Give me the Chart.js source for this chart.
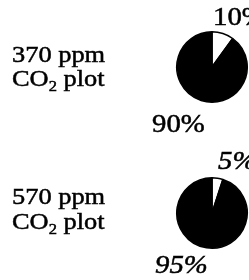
<!DOCTYPE html>
<html><head><meta charset="utf-8">
<script src="https://cdn.jsdelivr.net/npm/chart.js@4/dist/chart.umd.min.js"></script>
<style>
html,body{margin:0;padding:0;background:#fff;width:249px;height:280px;overflow:hidden}
.box{position:relative;width:249px;height:140px}
canvas{display:block}
</style></head>
<body>
<div class="box"><canvas id="c0" width="249" height="140"></canvas></div>
<div class="box"><canvas id="c1" width="249" height="140"></canvas></div>
<script>
// Data
const plotNames = ['370 ppm', '570 ppm'];
const gasName = ['CO', '2', ' plot'];
const sliceNames = ['other', 'main'];
const whiteValues = [10, 5];
const blackValues = [90, 95];

const layouts = [
  {pad:{left:176,right:1,top:31,bottom:37}, name:{x:12,y1:62,y2:86}, small:{dx:1,dy:-42,italic:false}, big:{dx:-60,dy:65,italic:false}},
  {pad:{left:176,right:1,top:37,bottom:31}, name:{x:12,y1:64,y2:89}, small:{dx:6,dy:-44,italic:true}, big:{dx:-57,dy:60,italic:true}}
];

function stretchText(ctx, text, x, y, font, sx) {
  ctx.save();
  ctx.font = font;
  ctx.scale(sx, 1);
  ctx.fillText(text, x / sx, y);
  ctx.lineWidth = 0.5;
  ctx.strokeText(text, x / sx, y);
  const w = ctx.measureText(text).width * sx;
  ctx.restore();
  return w;
}

const labelPlugin = {
  id: 'labels',
  afterDraw(chart) {
    const i = chart.options.plugins.labels.index;
    const L = layouts[i];
    const ctx = chart.ctx;
    ctx.save();
    ctx.fillStyle = '#000';
    ctx.strokeStyle = '#000';
    ctx.textBaseline = 'alphabetic';
    ctx.textAlign = 'left';
    const fam = '"Liberation Serif", "Times New Roman", serif';
    const sx = 1.1;
    stretchText(ctx, plotNames[i], L.name.x, L.name.y1, '24px ' + fam, sx);
    let x = L.name.x;
    x += stretchText(ctx, gasName[0], x, L.name.y2, '24px ' + fam, sx);
    x += stretchText(ctx, gasName[1], x, L.name.y2 + 5, '15px ' + fam, sx);
    stretchText(ctx, gasName[2], x, L.name.y2, '24px ' + fam, sx);
    const arc = chart.getDatasetMeta(0).data[0];
    const cx = arc.x, cy = arc.y;
    const s = L.small, b = L.big;
    stretchText(ctx, whiteValues[i] + '%', cx + s.dx, cy + s.dy, (s.italic ? 'italic ' : '') + '25px ' + fam, 1.15);
    stretchText(ctx, blackValues[i] + '%', cx + b.dx, cy + b.dy, (b.italic ? 'italic ' : '') + '25px ' + fam, 1.15);
    ctx.restore();
  }
};

[0, 1].forEach(i => {
  new Chart(document.getElementById('c' + i), {
    type: 'pie',
    data: {
      labels: sliceNames,
      datasets: [{
        data: [whiteValues[i], blackValues[i]],
        backgroundColor: ['#ffffff', '#000000'],
        borderColor: '#000000',
        borderWidth: 1.5
      }]
    },
    options: {
      responsive: false,
      animation: false,
      layout: {padding: layouts[i].pad},
      plugins: {legend: {display: false}, tooltip: {enabled: false}, labels: {index: i}}
    },
    plugins: [labelPlugin]
  });
});
</script>
</body></html>
